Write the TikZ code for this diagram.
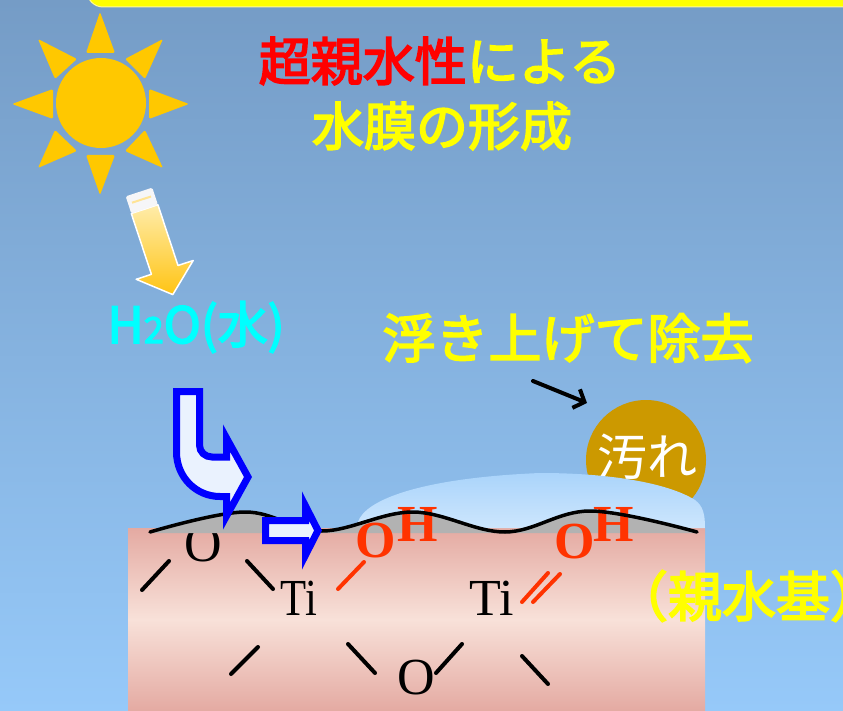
\documentclass[tikz,border=0pt]{standalone}
\usepackage{fontspec}
\usetikzlibrary{arrows.meta}
\newfontfamily\jpfont{Noto Sans CJK JP}
\newfontfamily\jpmed{Noto Sans CJK JP}[FakeBold=3.2]
\newfontfamily\chemfont{Liberation Serif}

\definecolor{bgtop}{RGB}{117,156,198}
\definecolor{bgbot}{RGB}{150,201,249}
\definecolor{sunyellow}{RGB}{255,200,0}
\definecolor{dirt}{RGB}{204,153,0}
\definecolor{filmtop}{RGB}{170,212,251}
\definecolor{filmbot}{RGB}{205,230,253}
\definecolor{subedge}{RGB}{228,170,162}
\definecolor{submid}{RGB}{248,225,217}
\definecolor{band}{RGB}{178,178,178}
\definecolor{ohred}{RGB}{255,51,0}
\definecolor{arrowfill}{RGB}{234,242,254}
\definecolor{palegold}{RGB}{255,236,170}
\definecolor{deepgold}{RGB}{255,196,20}
\definecolor{capwhite}{RGB}{246,246,248}
\definecolor{capline}{RGB}{255,228,150}
\definecolor{brightyellow}{RGB}{255,255,0}
\definecolor{brightred}{RGB}{255,0,0}
\definecolor{brightcyan}{RGB}{0,255,255}

\tikzset{
  lbl/.style={inner sep=0pt, outer sep=0pt},
  jptext/.style={lbl, font=\jpmed\fontsize{#1}{#1}\selectfont},
  chem/.style={lbl, anchor=base, font=\chemfont\fontsize{52}{52}\selectfont},
  ohlabel/.style={lbl, anchor=base, text=ohred, font=\chemfont\bfseries\fontsize{52}{52}\selectfont},
  bond/.style={line width=4pt, line cap=round},
  ray/.style={fill=sunyellow, rounded corners=1.5pt},
  bluearrow/.style={draw=blue, line width=7pt, fill=arrowfill, miter limit=10},
}

\begin{document}
\begin{tikzpicture}[x=1pt, y=-1pt]
\useasboundingbox (0,0) rectangle (843,711);

% sky
\shade[top color=bgtop, bottom color=bgbot] (0,0) rectangle (843,711);

% yellow banner edge at the top
\fill[brightyellow, draw=white!60!yellow, line width=1pt, rounded corners=16pt]
  (87,-40) rectangle (880,7);

% sun
\fill[sunyellow] (101,103) circle (45);
\fill[ray] (100,12) -- (115,53) -- (86,53) -- cycle;
\fill[ray] (100,195) -- (86,155) -- (115,155) -- cycle;
\fill[ray] (12,104) -- (53,89) -- (53,119) -- cycle;
\fill[ray] (189,104) -- (149,119) -- (149,89) -- cycle;
\fill[ray] (38,39) -- (77,59) -- (55,79) -- cycle;
\fill[ray] (163,39) -- (145,79) -- (125,59) -- cycle;
\fill[ray] (38,168) -- (55,130) -- (77,151) -- cycle;
\fill[ray] (163,168) -- (125,151) -- (145,130) -- cycle;

% title
\node[jptext=52] (title1) at (440,61)
  {\textcolor{brightred}{超親水性}\textcolor{brightyellow}{による}};
\node[jptext=52, text=brightyellow] (title2) at (442,126) {水膜の形成};

% light arrow from the sun
\shade[top color=palegold, bottom color=deepgold, draw=white, line width=1.5pt, line join=round]
  (157.9,204.7) -- (178,265.5) -- (193.2,260.5) -- (172.8,294.6)
  -- (136.2,279.3) -- (151.4,274.3) -- (131.3,213.5) -- cycle;
\fill[capwhite, rounded corners=1.5pt]
  (125.7,196.4) -- (152.3,187.6) -- (157.9,204.7) -- (131.3,213.5) -- cycle;
\draw[capline, line width=2pt] (132,202.7) -- (151,196.5);

% water label
\node[jptext=50, text=brightcyan] (water) at (196,327)
  {H{\fontsize{36}{36}\selectfont 2}O(水)};

% lifting label and pointer
\node[jptext=53, text=brightyellow] (lift) at (568,338) {浮き上げて除去};
\coordinate (pstart) at (533,381);
\coordinate (pend) at (587,403);
\draw[line width=4pt, line cap=round,
  -{Straight Barb[length=9pt 0, width=20pt 0, line width=4pt]}] (pstart) -- (pend);

% dirt particle
\fill[dirt] (646,460) circle (60);
\node[lbl, text=white, font=\jpfont\fontsize{50}{50}\selectfont] (dirtlabel) at (647,457) {汚れ};

% substrate
\shade[top color=subedge, bottom color=subedge, middle color=submid]
  (128,528) rectangle (705,711);

\node[chem] (o1) at (203,561) {O};

% water film
\shade[top color=filmtop, bottom color=filmbot]
  (358,528) -- (358,522) .. controls (365,500) and (420,478) .. (540,473)
  .. controls (610,473) and (668,483) .. (695,500)
  .. controls (703,506) and (705,514) .. (705,528) -- cycle;

% surface band
\fill[band] plot[smooth, tension=0.6] coordinates
  {(150,532) (245,512) (322,531) (413,512) (505,532) (590,511) (697,532)}
  -- (697,533) -- (150,533) -- cycle;

% hydroxyl groups
\node[ohlabel] (oh1o) at (376,557) {O};
\node[ohlabel] (oh1h) at (418,541) {H};
\node[ohlabel] (oh2o) at (574.5,558) {O};
\node[ohlabel] (oh2h) at (614,541) {H};

% surface line
\draw[line width=3.5pt, line cap=round] plot[smooth, tension=0.6] coordinates
  {(150,532) (245,512) (322,531) (413,512) (505,532) (590,511) (697,532)};

% bent water arrow
\draw[bluearrow]
  (176.5,391.5) -- (199.5,391.5) -- (199.5,445)
  .. controls (199.5,452) and (205,457) .. (212,457)
  -- (226.5,457) -- (226.5,438) -- (248,477) -- (226.5,516) -- (226.5,496.5)
  -- (220,496.5) .. controls (196,496.5) and (176.5,477) .. (176.5,452) -- cycle;

% straight water arrow
\draw[bluearrow]
  (265.5,520.5) -- (305.5,520.5) -- (305.5,506) -- (318,530.5)
  -- (305.5,555) -- (305.5,540.5) -- (265.5,540.5) -- cycle;

% lattice atoms
\node[chem] (ti1) at (299,615) {\scalebox{0.82}[1]{Ti}};
\node[chem] (ti2) at (492,615) {Ti};
\node[chem] (o2) at (416,694) {O};

% lattice bonds
\draw[bond] (142,590) -- (169,561);
\draw[bond] (247,561) -- (273,589);
\draw[bond] (231,674) -- (258,647);
\draw[bond] (348,644) -- (375,673);
\draw[bond] (436,673) -- (462,644);
\draw[bond] (522,656) -- (548,684);
\draw[bond, ohred] (338,589) -- (364,562);
\draw[bond, ohred] (522,602) -- (548,573);
\draw[bond, ohred] (533,602) -- (560,574);

% group label
\node[jptext=54, text=brightyellow] (group) at (749,596) {（親水基）};
\end{tikzpicture}
\end{document}
